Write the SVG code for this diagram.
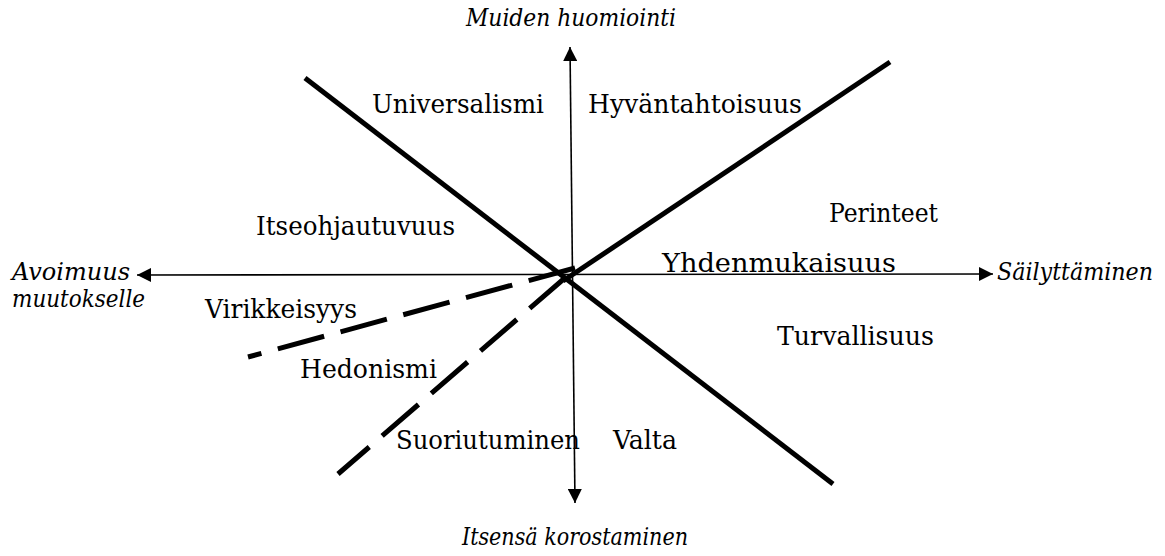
<svg xmlns="http://www.w3.org/2000/svg" width="1165" height="556" viewBox="0 0 1165 556">
<defs>
<style>
.lbl{font-family:"DejaVu Serif Condensed","DejaVu Serif","Liberation Serif",serif;font-stretch:condensed;font-size:26px;fill:#000}
.ax{font-family:"DejaVu Serif Condensed","DejaVu Serif","Liberation Serif",serif;font-stretch:condensed;font-size:24px;font-style:italic;fill:#000}
.axis{stroke:#000;stroke-width:1.6;fill:none;marker-start:url(#ah);marker-end:url(#ah)}
.thick{stroke:#000;stroke-width:5;fill:none}
.dash{stroke:#000;stroke-width:5;fill:none;stroke-dasharray:48 17}
</style>
<marker id="ah" markerUnits="userSpaceOnUse" markerWidth="14" markerHeight="14" refX="14" refY="7" orient="auto-start-reverse">
<path d="M0,0 L14,7 L0,14 Z" fill="#000"/>
</marker>
</defs>
<rect width="1165" height="556" fill="#fff"/>
<g id="connectors">
<line class="thick" x1="305" y1="78" x2="833" y2="484"/>
<line class="thick" x1="890" y1="62" x2="563" y2="281"/>
<line class="dash" x1="566" y1="277" x2="338" y2="474"/>
<line class="dash" x1="575" y1="268" x2="248" y2="357"/>
<line class="axis" x1="570" y1="47" x2="575" y2="503"/>
<line class="axis" x1="137" y1="275" x2="993" y2="274"/>
</g>
<g id="axis-top"><text class="ax" x="466" y="26" textLength="210" lengthAdjust="spacingAndGlyphs">Muiden huomiointi</text></g>
<g id="axis-bottom"><text class="ax" x="462" y="545" textLength="226" lengthAdjust="spacingAndGlyphs">Itsensä korostaminen</text></g>
<g id="axis-left"><text class="ax" x="12" y="280" textLength="118" lengthAdjust="spacingAndGlyphs">Avoimuus</text><text class="ax" x="12" y="307" textLength="133" lengthAdjust="spacingAndGlyphs">muutokselle</text></g>
<g id="axis-right"><text class="ax" x="997" y="280" textLength="156" lengthAdjust="spacingAndGlyphs">Säilyttäminen</text></g>
<g id="universalismi"><text class="lbl" x="372" y="113" textLength="172" lengthAdjust="spacingAndGlyphs">Universalismi</text></g>
<g id="hyvantahtoisuus"><text class="lbl" x="588" y="113" textLength="214" lengthAdjust="spacingAndGlyphs">Hyväntahtoisuus</text></g>
<g id="itseohjautuvuus"><text class="lbl" x="256" y="235" textLength="199" lengthAdjust="spacingAndGlyphs">Itseohjautuvuus</text></g>
<g id="perinteet"><text class="lbl" x="829" y="222" textLength="109" lengthAdjust="spacingAndGlyphs">Perinteet</text></g>
<g id="yhdenmukaisuus"><text class="lbl" x="662" y="272" textLength="234" lengthAdjust="spacingAndGlyphs">Yhdenmukaisuus</text></g>
<g id="virikkeisyys"><text class="lbl" x="205" y="318" textLength="152" lengthAdjust="spacingAndGlyphs">Virikkeisyys</text></g>
<g id="hedonismi"><text class="lbl" x="300" y="378" textLength="137" lengthAdjust="spacingAndGlyphs">Hedonismi</text></g>
<g id="suoriutuminen"><text class="lbl" x="396" y="449" textLength="184" lengthAdjust="spacingAndGlyphs">Suoriutuminen</text></g>
<g id="valta"><text class="lbl" x="613" y="449" textLength="64" lengthAdjust="spacingAndGlyphs">Valta</text></g>
<g id="turvallisuus"><text class="lbl" x="777" y="345" textLength="157" lengthAdjust="spacingAndGlyphs">Turvallisuus</text></g>
</svg>
